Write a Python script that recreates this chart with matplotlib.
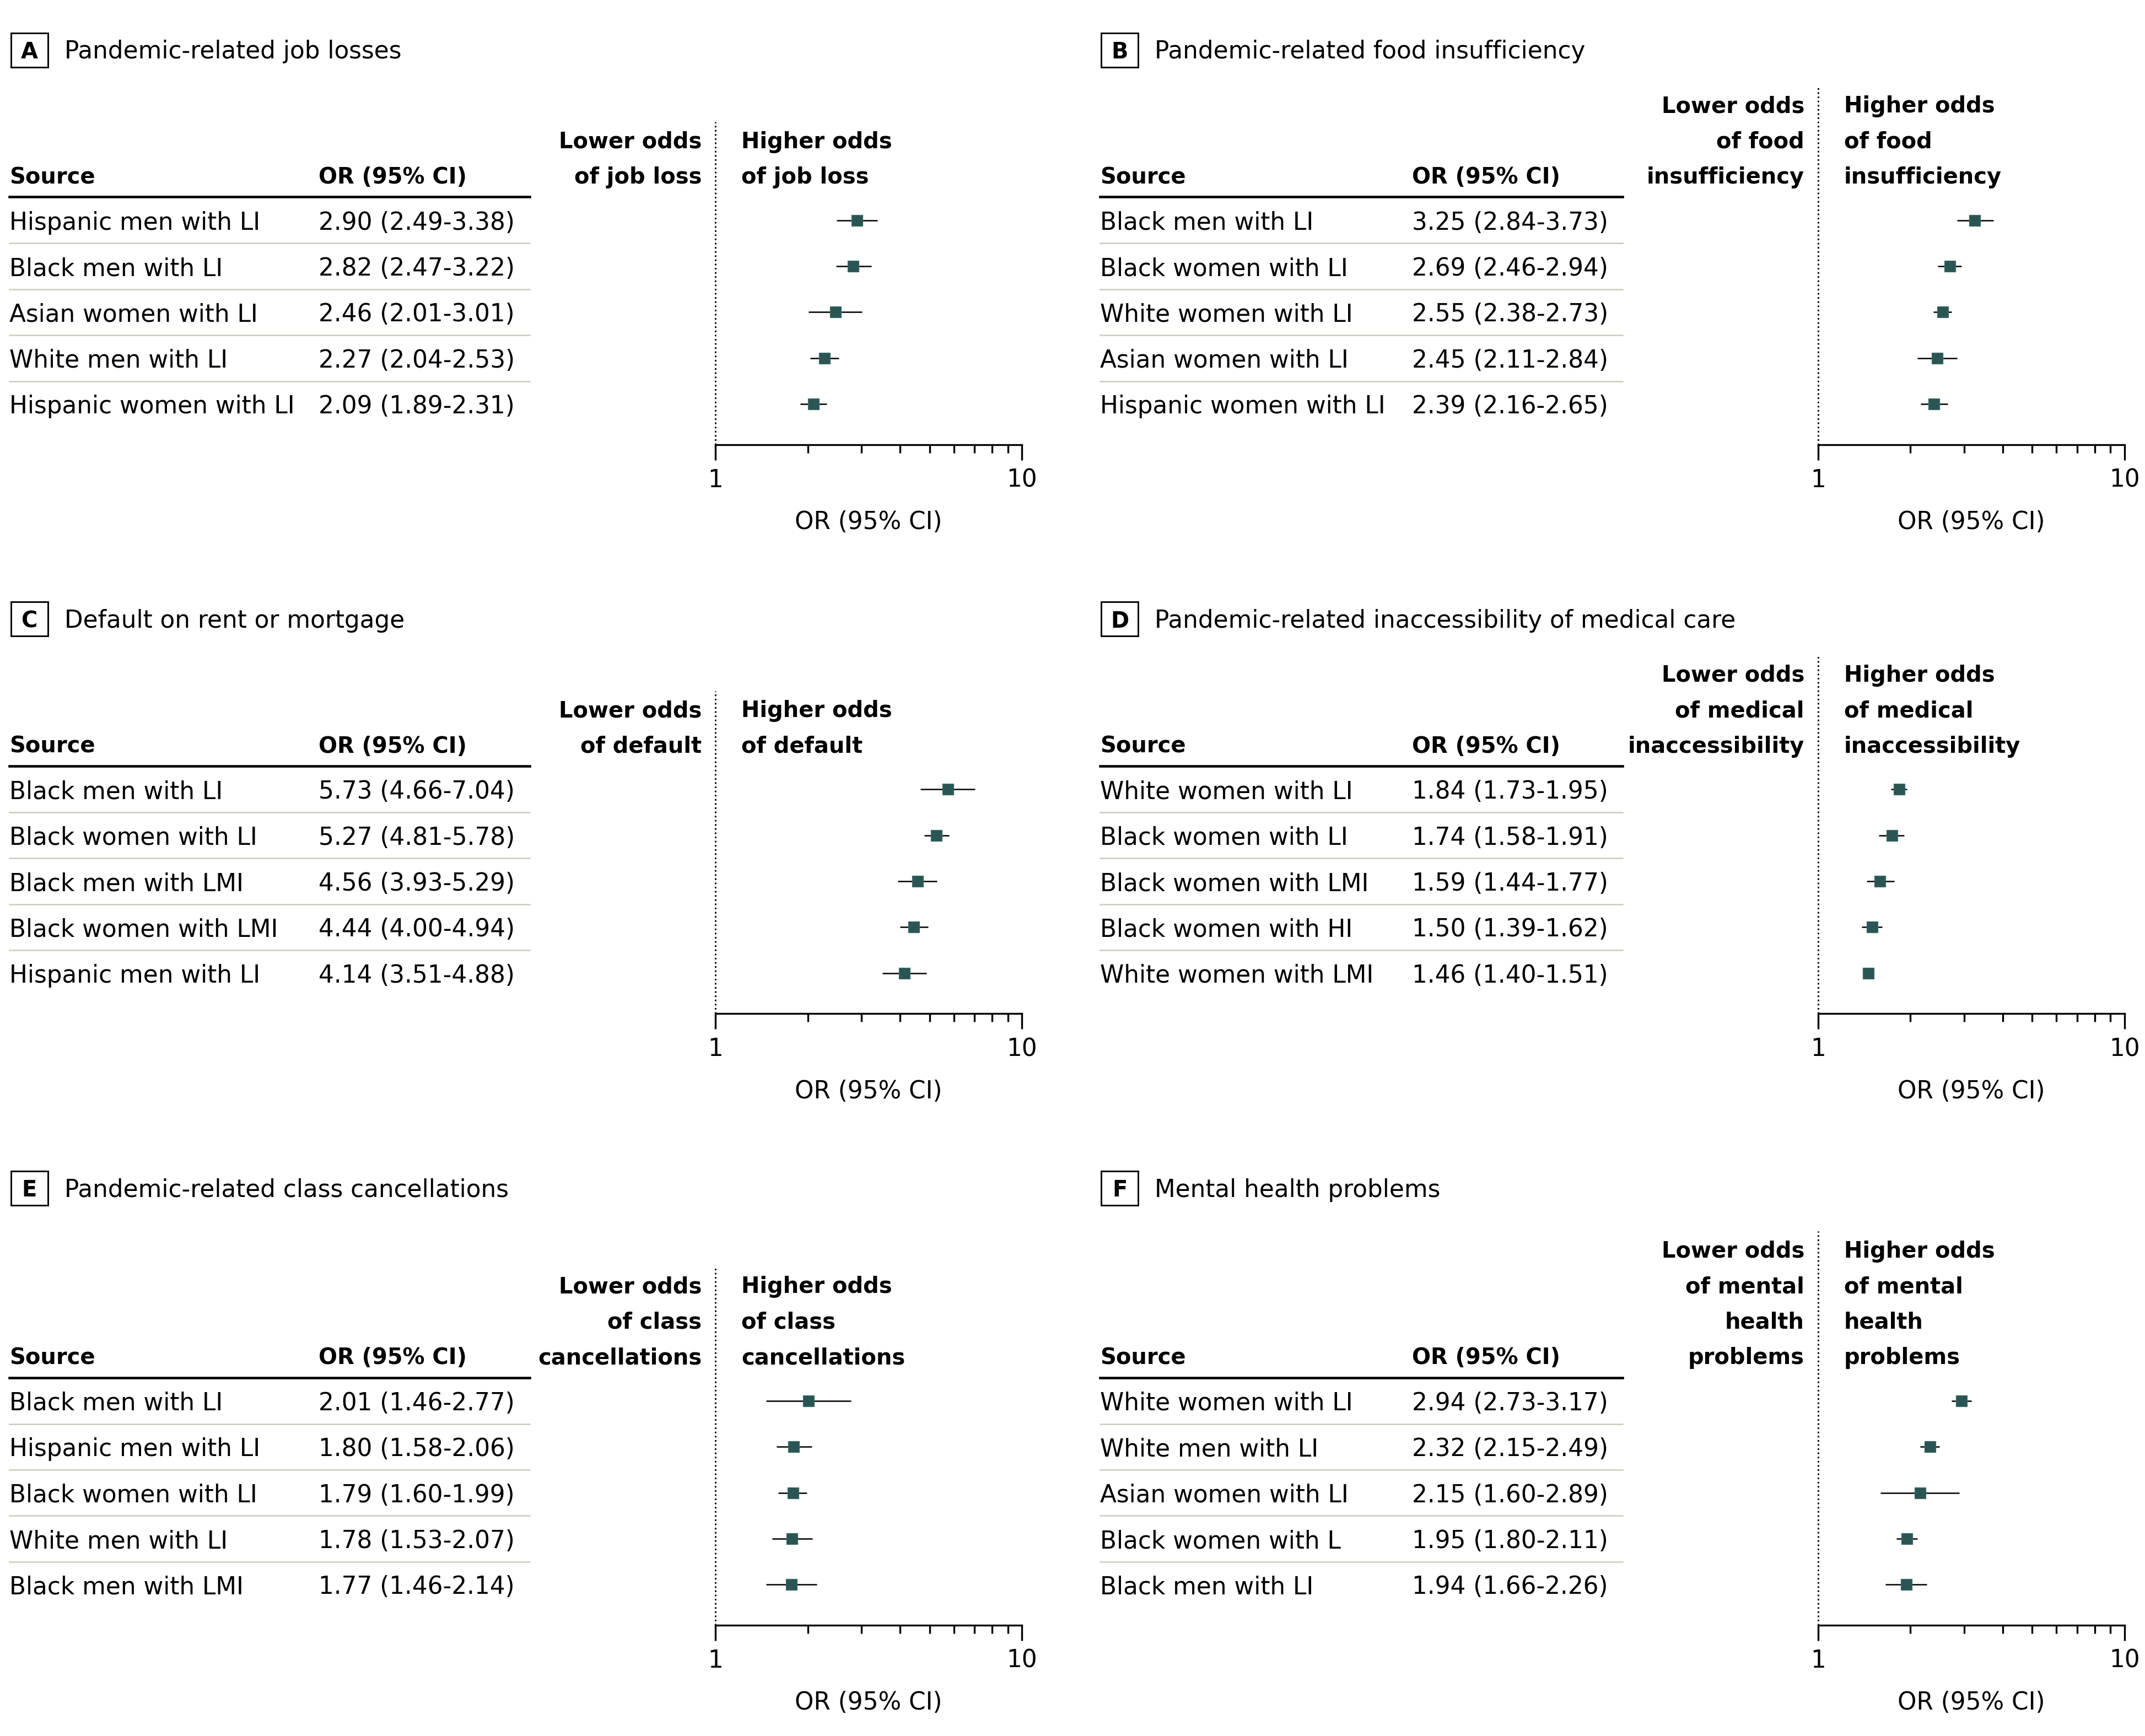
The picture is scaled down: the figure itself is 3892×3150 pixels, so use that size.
"""Six-panel forest plot: odds ratios by race/sex/income group."""
import matplotlib.pyplot as plt
import matplotlib as mpl
from matplotlib.lines import Line2D
from matplotlib.patches import Rectangle
from matplotlib.ticker import FixedLocator, NullFormatter

mpl.rcParams.update({
    "font.family": "DejaVu Sans",
    "font.size": 10.5,
})

MARK = "#2a5553"
MARK_EDGE = "#3f6e6b"
SEP = "#c8cdc0"
BOLD = 9.6

# ---- data -------------------------------------------------------------
A_title = "Pandemic-related job losses"
A_groups = ["Hispanic men with LI", "Black men with LI", "Asian women with LI",
            "White men with LI", "Hispanic women with LI"]
A_or = [2.90, 2.82, 2.46, 2.27, 2.09]
A_lo = [2.49, 2.47, 2.01, 2.04, 1.89]
A_hi = [3.38, 3.22, 3.01, 2.53, 2.31]
A_lower = ["Lower odds", "of job loss"]
A_higher = ["Higher odds", "of job loss"]

B_title = "Pandemic-related food insufficiency"
B_groups = ["Black men with LI", "Black women with LI", "White women with LI",
            "Asian women with LI", "Hispanic women with LI"]
B_or = [3.25, 2.69, 2.55, 2.45, 2.39]
B_lo = [2.84, 2.46, 2.38, 2.11, 2.16]
B_hi = [3.73, 2.94, 2.73, 2.84, 2.65]
B_lower = ["Lower odds", "of food", "insufficiency"]
B_higher = ["Higher odds", "of food", "insufficiency"]

C_title = "Default on rent or mortgage"
C_groups = ["Black men with LI", "Black women with LI", "Black men with LMI",
            "Black women with LMI", "Hispanic men with LI"]
C_or = [5.73, 5.27, 4.56, 4.44, 4.14]
C_lo = [4.66, 4.81, 3.93, 4.00, 3.51]
C_hi = [7.04, 5.78, 5.29, 4.94, 4.88]
C_lower = ["Lower odds", "of default"]
C_higher = ["Higher odds", "of default"]

D_title = "Pandemic-related inaccessibility of medical care"
D_groups = ["White women with LI", "Black women with LI", "Black women with LMI",
            "Black women with HI", "White women with LMI"]
D_or = [1.84, 1.74, 1.59, 1.50, 1.46]
D_lo = [1.73, 1.58, 1.44, 1.39, 1.40]
D_hi = [1.95, 1.91, 1.77, 1.62, 1.51]
D_lower = ["Lower odds", "of medical", "inaccessibility"]
D_higher = ["Higher odds", "of medical", "inaccessibility"]

E_title = "Pandemic-related class cancellations"
E_groups = ["Black men with LI", "Hispanic men with LI", "Black women with LI",
            "White men with LI", "Black men with LMI"]
E_or = [2.01, 1.80, 1.79, 1.78, 1.77]
E_lo = [1.46, 1.58, 1.60, 1.53, 1.46]
E_hi = [2.77, 2.06, 1.99, 2.07, 2.14]
E_lower = ["Lower odds", "of class", "cancellations"]
E_higher = ["Higher odds", "of class", "cancellations"]

F_title = "Mental health problems"
F_groups = ["White women with LI", "White men with LI", "Asian women with LI",
            "Black women with L", "Black men with LI"]
F_or = [2.94, 2.32, 2.15, 1.95, 1.94]
F_lo = [2.73, 2.15, 1.60, 1.80, 1.66]
F_hi = [3.17, 2.49, 2.89, 2.11, 2.26]
F_lower = ["Lower odds", "of mental", "health", "problems"]
F_higher = ["Higher odds", "of mental", "health", "problems"]

panels = [
    ("A", A_title, A_groups, A_or, A_lo, A_hi, A_lower, A_higher),
    ("B", B_title, B_groups, B_or, B_lo, B_hi, B_lower, B_higher),
    ("C", C_title, C_groups, C_or, C_lo, C_hi, C_lower, C_higher),
    ("D", D_title, D_groups, D_or, D_lo, D_hi, D_lower, D_higher),
    ("E", E_title, E_groups, E_or, E_lo, E_hi, E_lower, E_higher),
    ("F", F_title, F_groups, F_or, F_lo, F_hi, F_lower, F_higher),
]

# ---- layout grid (units of a 1568 x 1269 canvas) -----------------------
W, H = 1568.0, 1269.0
COL_X0 = [7, 804]
OR_X = [233, 1032]
RULE_END = [387, 1186]
DOT_X = [523, 1329]
AXIS_W = 224
TITLE_Y = [36, 452, 868]
HEADER_Y = [128, 544, 991]
ROW_GAP = 33.6
LINE_GAP = 26
DY = 1.8  # visual-centre correction for va="center" text


def fx(x):
    return x / W


def fy(y):
    return 1 - y / H


def ft(y):
    return fy(y + DY)


fig = plt.figure(figsize=(3892 / 300, 3150 / 300), dpi=300)

for i, (letter, title, groups, ors, los, his, lower, higher) in enumerate(panels):
    col, row = i % 2, i // 2
    x0, ty, hy = COL_X0[col], TITLE_Y[row], HEADER_Y[row]
    dx, orx, rend = DOT_X[col], OR_X[col], RULE_END[col]

    # panel letter box + title
    fig.add_artist(Rectangle((fx(x0 + 1), fy(ty + 13)), 27 / W, 25 / H,
                             transform=fig.transFigure, fill=False,
                             ec="black", lw=0.7))
    fig.text(fx(x0 + 14.5), ft(ty + 0.5), letter, ha="center", va="center",
             fontweight="bold", fontsize=BOLD)
    fig.text(fx(x0 + 40), ft(ty), title, va="center")

    # table header
    fig.text(fx(x0), ft(hy), "Source", va="center", fontweight="bold",
             fontsize=BOLD)
    fig.text(fx(orx), ft(hy), "OR (95% CI)", va="center", fontweight="bold",
             fontsize=BOLD)
    fig.add_artist(Line2D([fx(x0), fx(rend)], [fy(hy + 16)] * 2,
                          transform=fig.transFigure, color="black", lw=1.1))

    row0 = hy + 33
    for k, (g, o, lo, hi) in enumerate(zip(groups, ors, los, his)):
        yk = row0 + ROW_GAP * k
        fig.text(fx(x0), ft(yk), g, va="center")
        fig.text(fx(orx), ft(yk), f"{o:.2f} ({lo:.2f}-{hi:.2f})", va="center")
        if k < len(groups) - 1:
            ys = fy(yk + ROW_GAP / 2)
            fig.add_artist(Line2D([fx(x0), fx(rend)], [ys, ys],
                                  transform=fig.transFigure, color=SEP, lw=0.6))

    # direction labels
    n = len(lower)
    for k in range(n):
        yl = ft(hy - LINE_GAP * (n - 1 - k))
        fig.text(fx(dx - 10), yl, lower[k], ha="right", va="center",
                 fontweight="bold", fontsize=BOLD)
        fig.text(fx(dx + 19), yl, higher[k], ha="left", va="center",
                 fontweight="bold", fontsize=BOLD)

    # forest axes
    top = hy - LINE_GAP * (n - 1) - 13
    bottom = hy + 197
    ax = fig.add_axes([fx(dx), fy(bottom), AXIS_W / W, (bottom - top) / H])
    ax.set_xscale("log")
    ax.set_xlim(1, 10)
    ax.set_ylim((bottom - row0) / ROW_GAP, (top - row0) / ROW_GAP)
    ypos = list(range(len(groups)))
    ax.hlines(ypos, los, his, colors="black", lw=0.6, zorder=2)
    ax.plot(ors, ypos, "s", ms=5, color=MARK, mec=MARK_EDGE, mew=0.3,
            zorder=3)
    ax.axvline(1, color="black", lw=0.7, ls=(0, (1, 1.6)), clip_on=False)

    ax.patch.set_visible(False)
    for s in ["top", "left", "right"]:
        ax.spines[s].set_visible(False)
    ax.spines["bottom"].set_linewidth(0.8)
    ax.set_yticks([])
    ax.set_xticks([1, 10])
    ax.set_xticklabels(["1", "10"])
    ax.xaxis.set_minor_locator(FixedLocator(range(2, 10)))
    ax.xaxis.set_minor_formatter(NullFormatter())
    ax.tick_params(axis="x", which="major", length=6.8, width=0.8, pad=3.5)
    ax.tick_params(axis="x", which="minor", length=3.7, width=0.8)

    fig.text(fx(dx + AXIS_W / 2), ft(bottom + 55), "OR (95% CI)",
             ha="center", va="center")

fig.savefig("out.png", dpi=300)
plt.close(fig)
